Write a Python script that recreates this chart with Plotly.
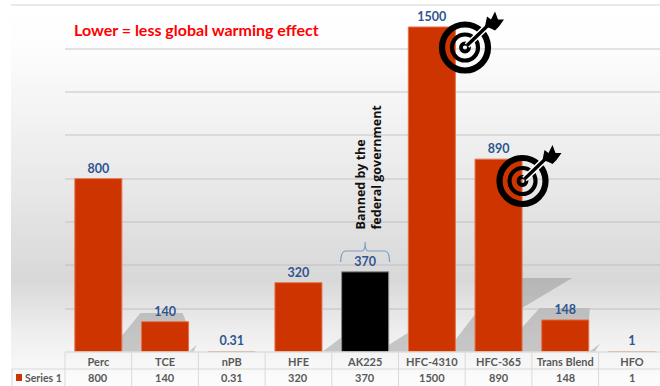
import plotly.graph_objects as go

# Chart data
categories = ["Perc", "TCE", "nPB", "HFE", "AK225", "HFC-4310", "HFC-365", "Trans Blend", "HFO"]
values = [800, 140, 0.31, 320, 370, 1500, 890, 148, 1]
value_labels = ["800", "140", "0.31", "320", "370", "1500", "890", "148", "1"]
series_name = "Series 1"
chart_note = "Lower = less global warming effect"
banned_note = "Banned by the<br>federal government"

W, H = 660, 386
PLOT_LEFT, PLOT_TOP, BASE_Y = 65, 5.3, 352
STEP = 66.7
BAR_W = 0.705
ORANGE, BLACK = "#CE3400", "#000000"
LABEL_BLUE = "#2F5590"
TABLE_GREY = "#595959"
LINE = "#d9d9d9"
TEXT_FONT = "Lato"


def X(p):
    return p / W


def Y(p):
    return 1 - p / H


def poly(points):
    return "M" + " L".join(f"{X(a):.5f},{Y(b):.5f}" for a, b in points) + " Z"


def rect(x0, y0, x1, y1, fill, layer="below"):
    return dict(type="rect", xref="paper", yref="paper", x0=X(x0), x1=X(x1), y0=Y(y0), y1=Y(y1),
                fillcolor=fill, line_width=0, layer=layer)


def hline(x0, x1, y, color=LINE, w=1, layer="below"):
    return dict(type="line", xref="paper", yref="paper", x0=X(x0), x1=X(x1), y0=Y(y), y1=Y(y),
                line=dict(color=color, width=w), layer=layer)


def vline(x, y0, y1, color=LINE, w=1):
    return dict(type="line", xref="paper", yref="paper", x0=X(x), x1=X(x), y0=Y(y0), y1=Y(y1),
                line=dict(color=color, width=w), layer="below")


def backdrop_shade(y):
    # White at the top, darkest band low in the chart, fading out under the table
    stops = [(5, 255), (45, 253), (180, 233), (278, 216), (330, 238), (386, 253)]
    for (a, ca), (b, cb) in zip(stops, stops[1:]):
        if a <= y <= b:
            return round(ca + (cb - ca) * (y - a) / (b - a))
    return 253


shapes = []
for y in range(5, H, 3):
    g = backdrop_shade(y)
    shapes.append(rect(11, y, W, y + 3, f"rgb({g},{g},{g})"))

# Cast shadows behind the bars, offset from each bar's edges
centers = [PLOT_LEFT + STEP * (i + 0.5) for i in range(len(categories))]
half = BAR_W * STEP / 2
shadow = "rgba(125,125,125,0.38)"


def bar_edges(name):
    c = centers[categories.index(name)]
    return c - half, c + half


l, r = bar_edges("TCE")
shadow_polys = [[(l - 33, BASE_Y), (l - 1, 313), (r - 6, 313), (r, 328), (r, BASE_Y)],
                [(r, BASE_Y), (r + 8, 345), (r + 5, BASE_Y)]]
l, r = bar_edges("HFC-365")
shadow_polys.append([(l - 29, BASE_Y), (l + 28, 278), (r + 50, 278), (r, 308), (r - 22, BASE_Y)])
l, r = bar_edges("Trans Blend")
shadow_polys += [[(l - 42, BASE_Y), (l - 2, 308), (r + 1, 308), (r, 325), (r, BASE_Y)],
                 [(r, BASE_Y), (r + 11, 344), (r + 6, BASE_Y)]]
l, r = bar_edges("HFE")
shadow_polys.append([(r, BASE_Y), (r + 20, 337), (r + 20, BASE_Y)])
l, r = bar_edges("AK225")
shadow_polys.append([(r, 345), (r + 19, 333), (r + 19, BASE_Y), (r, BASE_Y)])
for pts in shadow_polys:
    shapes.append(dict(type="path", xref="paper", yref="paper", path=poly(pts),
                       fillcolor=shadow, line_width=0, layer="below"))

# Data table under the plot
shapes.append(hline(11, W, 5, "#e2e2e2", 1.5))
shapes.append(hline(PLOT_LEFT, W, BASE_Y, "#dedede", 1.5, "above"))
shapes.append(hline(12, W, 369))
shapes.append(vline(12, 369, H))
for i in range(len(categories)):
    shapes.append(vline(PLOT_LEFT + STEP * i, BASE_Y, H))
shapes.append(rect(16, 374, 22, 381, ORANGE))

# Bracket over the AK225 label
ak = centers[categories.index("AK225")]
bracket = (f"M{X(ak-24.5):.5f},{Y(262):.5f} Q{X(ak-24.5):.5f},{Y(251):.5f} {X(ak-19):.5f},{Y(251):.5f} "
           f"L{X(ak-3):.5f},{Y(251):.5f} Q{X(ak):.5f},{Y(251):.5f} {X(ak):.5f},{Y(242):.5f} "
           f"Q{X(ak):.5f},{Y(251):.5f} {X(ak+3):.5f},{Y(251):.5f} "
           f"L{X(ak+19):.5f},{Y(251):.5f} Q{X(ak+24.5):.5f},{Y(251):.5f} {X(ak+24.5):.5f},{Y(262):.5f}")
shapes.append(dict(type="path", xref="paper", yref="paper", path=bracket,
                   line=dict(color="#7d9ec8", width=1.2), layer="above"))


def ring(cx, cy, rad, width):
    return dict(type="circle", xref="paper", yref="paper", x0=X(cx - rad), x1=X(cx + rad),
                y0=Y(cy + rad), y1=Y(cy - rad), line=dict(color=BLACK, width=width), layer="above")


def target(cx, cy):
    # Dartboard icon: rings, then an arrow with a pale halo and a fletched tail
    out = [ring(cx, cy, 23, 6.2), ring(cx, cy, 13, 4.2), ring(cx, cy, 4, 3.8)]
    shaft = lambda color, w: dict(type="line", xref="paper", yref="paper", x0=X(cx + 2), y0=Y(cy - 2),
                                  x1=X(cx + 27), y1=Y(cy - 26), line=dict(color=color, width=w), layer="above")
    out.append(shaft("#ffffff", 6.5))
    out.append(shaft(BLACK, 3.4))
    tail = [(cx + 20, cy - 21), (cx + 22, cy - 31), (cx + 26, cy - 28), (cx + 30, cy - 36),
            (cx + 33, cy - 28), (cx + 39, cy - 28), (cx + 34, cy - 21), (cx + 30, cy - 17), (cx + 26, cy - 19)]
    out.append(dict(type="path", xref="paper", yref="paper", path=poly(tail),
                    fillcolor=BLACK, line_width=0, layer="above"))
    return out


shapes += target(465, 47.5)
shapes += target(522.5, 181)

bar_colors = [BLACK if c == "AK225" else ORANGE for c in categories]
edge_colors = ["#8a8a8a" if c == "AK225" else "#e4734d" for c in categories]
edge_widths = [1 if v >= 2 else 0 for v in values]

fig = go.Figure(go.Bar(
    x=list(range(len(categories))), y=values, width=BAR_W,
    marker=dict(color=bar_colors, line=dict(color=edge_colors, width=edge_widths)),
    text=value_labels, textposition="outside", cliponaxis=False,
    textfont=dict(family=TEXT_FONT, size=12.5, color=LABEL_BLUE, weight="bold"),
    name=series_name, showlegend=False,
))

annotations = [
    dict(xref="paper", yref="paper", x=X(71.5), y=Y(29), xanchor="left", yanchor="middle", text=chart_note,
         showarrow=False, font=dict(family="Lato", size=16, color="#FF0000", weight="bold")),
    dict(xref="paper", yref="paper", x=X(368), y=Y(232), xanchor="center", yanchor="bottom", text=banned_note,
         textangle=-90, align="left", showarrow=False,
         font=dict(family="Open Sans", size=12.5, color="#111111", weight="bold")),
    dict(xref="paper", yref="paper", x=X(22.5), y=Y(377.5), xanchor="left", yanchor="middle", text=series_name,
         showarrow=False, font=dict(family=TEXT_FONT, size=10.5, color=TABLE_GREY, weight="bold")),
]
for i, label in enumerate(value_labels):
    annotations.append(dict(xref="x", yref="paper", x=i, y=Y(377.5), xanchor="center", yanchor="middle",
                            text=label, showarrow=False,
                            font=dict(family=TEXT_FONT, size=11, color=TABLE_GREY, weight="bold")))

fig.update_layout(
    width=W, height=H, margin=dict(l=0, r=0, t=0, b=0),
    paper_bgcolor="#ffffff", plot_bgcolor="rgba(0,0,0,0)",
    shapes=shapes, annotations=annotations, bargap=0.3,
    xaxis=dict(domain=[X(PLOT_LEFT), 1], range=[-0.5, -0.5 + (W - PLOT_LEFT) / STEP],
               tickmode="array", tickvals=list(range(len(categories))), ticktext=categories,
               showgrid=False, zeroline=False, ticks="", showline=False, ticklabelstandoff=2,
               tickfont=dict(family=TEXT_FONT, size=11, color=TABLE_GREY, weight="bold")),
    yaxis=dict(domain=[Y(BASE_Y), Y(PLOT_TOP)], range=[0, 1600], dtick=200, showticklabels=False,
               gridcolor="rgba(185,185,185,0.4)", gridwidth=1.5, zeroline=False, showline=False),
)

fig.write_html("out.html", config=dict(displayModeBar=False))
